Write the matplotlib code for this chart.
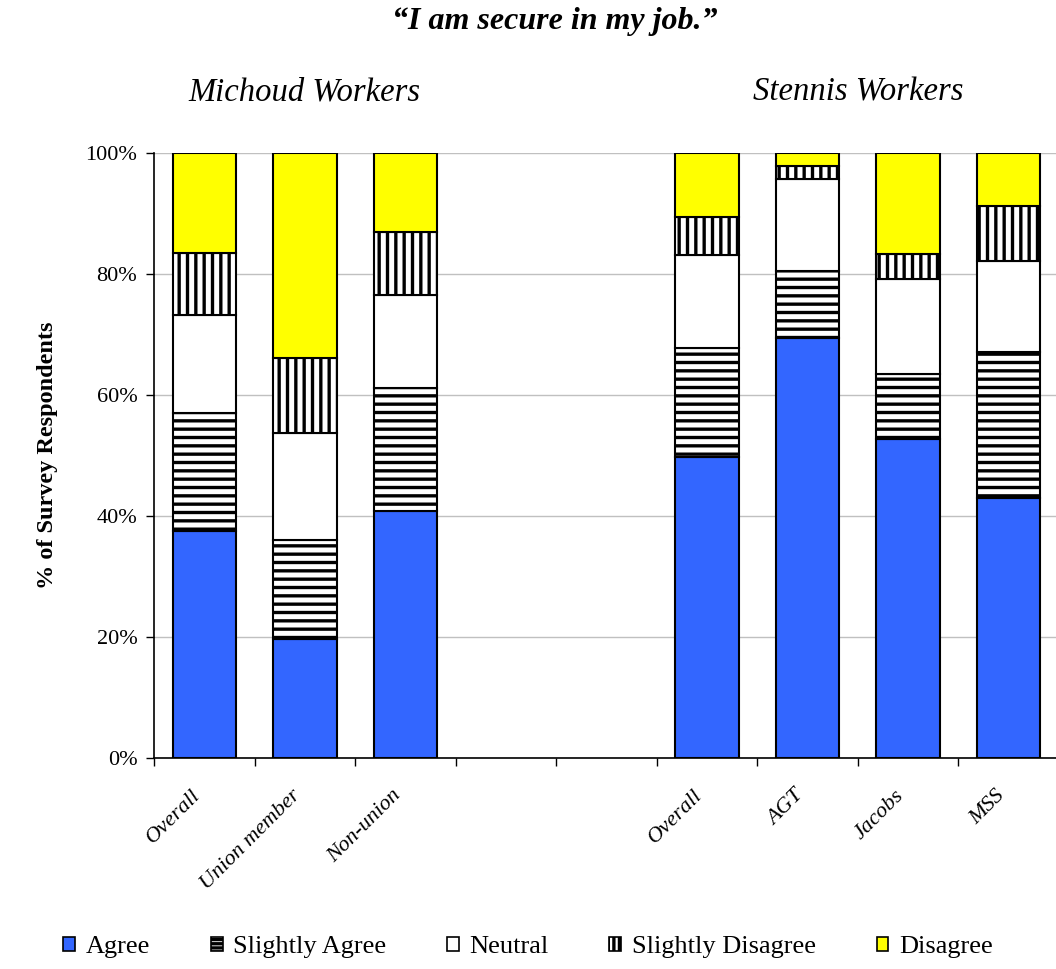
import matplotlib
matplotlib.use("Agg")
import matplotlib.pyplot as plt
import matplotlib.transforms as mtransforms
import numpy as np
from matplotlib.patches import Patch

plt.rcParams['font.family'] = ['Liberation Serif', 'DejaVu Serif']
plt.rcParams['hatch.linewidth'] = 2.4

# category slots (two empty slots separate the groups)
categories = ['Overall', 'Union member', 'Non-union', '', '',
              'Overall', 'AGT', 'Jacobs', 'MSS']
bar_slots = [0, 1, 2, 5, 6, 7, 8]

# percent of respondents per bar (in bar_slots order)
agree = [37.5, 19.7, 40.9, 49.8, 69.5, 52.7, 42.9]
slightly_agree = [19.5, 16.4, 20.2, 17.9, 11.0, 10.8, 24.2]
neutral = [16.3, 17.6, 15.4, 15.4, 15.2, 15.6, 15.0]
slightly_disagree = [10.2, 12.4, 10.4, 6.4, 2.2, 4.2, 9.1]
disagree = [16.5, 33.9, 13.1, 10.5, 2.1, 16.7, 8.8]

series = [
    ('Agree', agree, '#3366FF', None, None),
    ('Slightly Agree', slightly_agree, 'white', '--', '----'),
    ('Neutral', neutral, 'white', None, None),
    ('Slightly Disagree', slightly_disagree, 'white', '||', '|||'),
    ('Disagree', disagree, '#FFFF00', None, None),
]

fig = plt.figure(figsize=(10.56, 9.69), dpi=100)
ax = fig.add_axes([154/1056, 1-758/969, 905/1056, 605/969])

bottom = np.zeros(len(bar_slots))
for name, vals, col, hat, _ in series:
    ax.bar(bar_slots, vals, width=0.63, bottom=bottom, color=col,
           edgecolor='black', linewidth=1.5, hatch=hat, zorder=3)
    bottom += np.array(vals)

ax.set_xlim(-0.5, 8.5)
ax.set_ylim(0, 100)
ax.set_yticks(np.arange(0, 101, 20))
ax.set_yticklabels([f'{v}%' for v in range(0, 101, 20)], fontsize=16)
ax.yaxis.grid(True, color='#c0c0c0', linewidth=1, zorder=0)
ax.tick_params(axis='y', direction='out', length=6, width=1, pad=6)

ax.set_xticks(np.arange(len(categories)))
ax.set_xticklabels(categories, rotation=45, ha='right', va='center',
                   rotation_mode='anchor', fontsize=16, style='italic')
ax.tick_params(axis='x', which='major', length=0, pad=25)
shift = mtransforms.ScaledTranslation(-0.07, 0, fig.dpi_scale_trans)
for lab in ax.get_xticklabels():
    lab.set_transform(lab.get_transform() + shift)
ax.set_xticks(np.arange(-0.5, 9.0, 1), minor=True)
ax.tick_params(axis='x', which='minor', direction='out', length=6, width=1)

for s in ['top', 'right']:
    ax.spines[s].set_visible(False)
for s in ['left', 'bottom']:
    ax.spines[s].set_linewidth(1.2)

ax.set_ylabel('% of Survey Respondents', fontsize=17.5, fontweight='bold',
              labelpad=20)

fig.text(555/1056, 1-21/969, '\u201cI am secure in my job.\u201d', ha='center',
         va='center', fontsize=23, fontweight='bold', style='italic')
ax.text(1, 1.10, 'Michoud Workers', transform=ax.get_xaxis_transform(),
        ha='center', va='center', fontsize=23.5, style='italic')
ax.text(6.5, 1.10, 'Stennis Workers', transform=ax.get_xaxis_transform(),
        ha='center', va='center', fontsize=23.5, style='italic')

handles = [Patch(facecolor=c, edgecolor='black', hatch=lh, linewidth=1.2)
           for _, _, c, _, lh in series]
labels = [n for n, _, _, _, _ in series]
fig.legend(handles, labels, loc='center', ncol=5,
           bbox_to_anchor=(0.5, 1-947/969), frameon=False,
           fontsize=19, handlelength=0.45, handleheight=0.45,
           handletextpad=0.4, columnspacing=2.3)

fig.savefig('out.png', dpi=100)
